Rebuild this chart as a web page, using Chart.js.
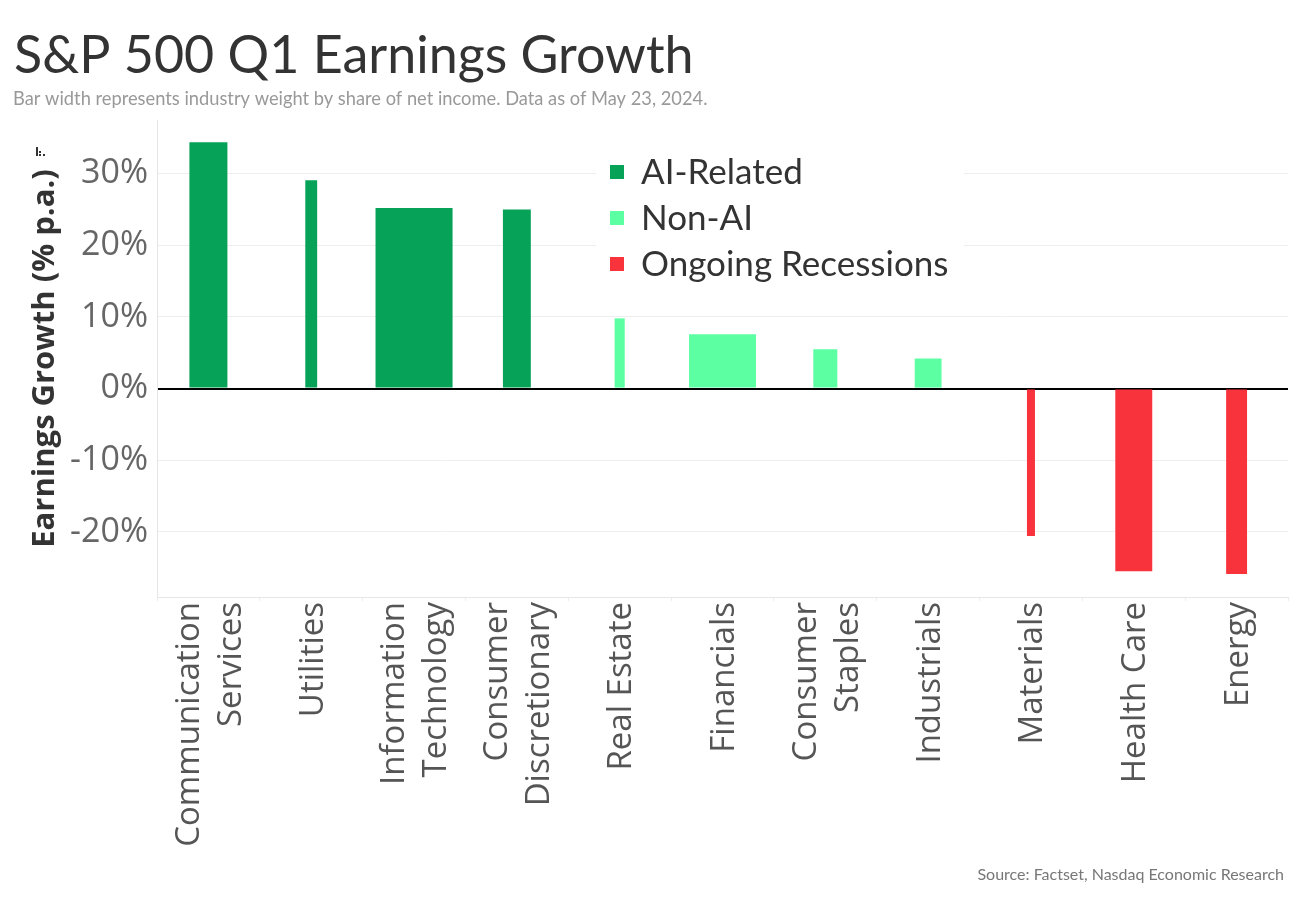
<!DOCTYPE html>
<html>
<head>
<meta charset="utf-8">
<script src="https://cdn.jsdelivr.net/npm/chart.js@4.4.1/dist/chart.umd.min.js"></script>
<style>
  html, body { margin: 0; padding: 0; background: #ffffff; }
  #wrap { position: relative; width: 1300px; height: 900px; }
</style>
</head>
<body>
<div id="wrap"><canvas id="c" width="1300" height="900"></canvas></div>
<script>
// ---- Data ----
const categories = [
  ['Communication', 'Services'],
  ['Utilities'],
  ['Information', 'Technology'],
  ['Consumer', 'Discretionary'],
  ['Real Estate'],
  ['Financials'],
  ['Consumer', 'Staples'],
  ['Industrials'],
  ['Materials'],
  ['Health Care'],
  ['Energy']
];
// Q1 earnings growth, % p.a.
const growth = [34.4, 29.1, 25.2, 25.0, 9.8, 7.6, 5.5, 4.2, -20.6, -25.5, -25.9];
// Industry weight by share of net income, %
const weights = [10.9, 3.4, 22.1, 8.0, 2.9, 19.2, 6.9, 7.7, 2.3, 10.6, 6.0];
// Group of each industry (index into groupNames)
const groups = [0, 0, 0, 0, 1, 1, 1, 1, 2, 2, 2];
const groupNames = ['AI-Related', 'Non-AI', 'Ongoing Recessions'];
const groupColors = ['#06A258', '#5CFFA2', '#F8333C'];
const yTicks = [-20, -10, 0, 10, 20, 30];

const titleText = 'S&P 500 Q1 Earnings Growth';
const subtitleText = 'Bar width represents industry weight by share of net income. Data as of May 23, 2024.';
const sourceText = 'Source: Factset, Nasdaq Economic Research';
const yTitle = 'Earnings Growth (% p.a.)';

// ---- Build datasets: one per industry so each bar can have its own width ----
const widthPerWeight = 0.0339; // fraction of category slot per 1% weight
const datasets = categories.map((cat, i) => ({
  label: cat.join(' '),
  data: categories.map((_, j) => (j === i ? growth[i] : null)),
  backgroundColor: groupColors[groups[i]],
  borderWidth: 0,
  grouped: false,
  categoryPercentage: 1,
  barPercentage: weights[i] * widthPerWeight
}));

// centre wrapped (multi-line) rotated tick labels on their category
const centerLabelsPlugin = {
  id: 'centerLabels',
  beforeDraw(chart) {
    const sx = chart.scales.x;
    const items = sx.getLabelItems();
    items.forEach(it => {
      if (it._centered) return;
      const n = Array.isArray(it.label) ? it.label.length : 1;
      it.options.translation[0] += 2 - (n - 1) * it.font.lineHeight / 2;
      it._centered = true;
    });
  }
};

const decorPlugin = {
  id: 'decor',
  afterDraw(chart) {
    const ctx = chart.ctx;
    ctx.save();
    // Title
    ctx.fillStyle = '#333333';
    ctx.textAlign = 'left';
    ctx.textBaseline = 'alphabetic';
    ctx.font = '52px Lato';
    ctx.fillText(titleText, 14, 73);
    // Subtitle
    ctx.fillStyle = '#999999';
    ctx.font = '18.3px Lato';
    ctx.fillText(subtitleText, 13, 105);
    // Source
    ctx.fillStyle = '#777777';
    ctx.textAlign = 'right';
    ctx.font = '16px Lato';
    ctx.fillText(sourceText, 1284, 880);

    // Legend box (covers gridlines)
    ctx.fillStyle = '#ffffff';
    ctx.fillRect(596, 150, 368, 140);
    ctx.textAlign = 'left';
    ctx.textBaseline = 'middle';
    ctx.font = '35px Lato';
    groupNames.forEach((name, k) => {
      const cy = 172 + k * 46;
      ctx.fillStyle = groupColors[k];
      ctx.fillRect(610, cy - 7, 14, 14);
      ctx.fillStyle = '#333333';
      ctx.fillText(name, 641, cy + 1);
    });

    // small sort icon near the y-axis title
    ctx.fillStyle = '#333333';
    ctx.fillRect(36, 147, 2, 9);
    ctx.fillRect(39, 151, 2, 2);
    ctx.fillRect(39, 154, 2, 2);
    ctx.fillRect(43, 154, 2, 2);
    ctx.restore();
  }
};

new Chart(document.getElementById('c'), {
  type: 'bar',
  data: { labels: categories, datasets },
  options: {
    responsive: false,
    animation: false,
    events: [],
    layout: { padding: { top: 120, left: 15, right: 12, bottom: 0 } },
    plugins: {
      legend: { display: false },
      tooltip: { enabled: false },
      title: { display: false }
    },
    scales: {
      x: {
        afterFit(s) { s.height = 303; },
        grid: {
          offset: true,
          drawOnChartArea: false,
          drawTicks: true,
          tickLength: 4,
          color: '#eeeeee'
        },
        border: { display: true, color: '#e6e6e6', width: 1 },
        ticks: {
          autoSkip: false,
          minRotation: 90,
          maxRotation: 90,
          padding: 1,
          color: '#555555',
          font: { family: 'Open Sans', size: 33, lineHeight: 1.27 }
        }
      },
      y: {
        min: -29.1,
        max: 37.5,
        afterFit(s) { s.width = 142; },
        afterBuildTicks(s) { s.ticks = yTicks.map(v => ({ value: v })); },
        grid: {
          drawTicks: false,
          color: ctx => (ctx.tick && ctx.tick.value === 0 ? '#000000' : '#eeeeee'),
          lineWidth: ctx => (ctx.tick && ctx.tick.value === 0 ? 2 : 1)
        },
        border: { display: true, color: '#e6e6e6', width: 1 },
        ticks: {
          padding: 9,
          color: '#666666',
          font: { family: 'Open Sans', size: 34 },
          callback: v => v + '%'
        },
        title: {
          display: true,
          text: yTitle,
          color: '#333333',
          font: { family: 'Open Sans', size: 31, weight: 'bold' },
          padding: { top: 12, bottom: 0 }
        }
      }
    }
  },
  plugins: [centerLabelsPlugin, decorPlugin]
});
</script>
</body>
</html>
